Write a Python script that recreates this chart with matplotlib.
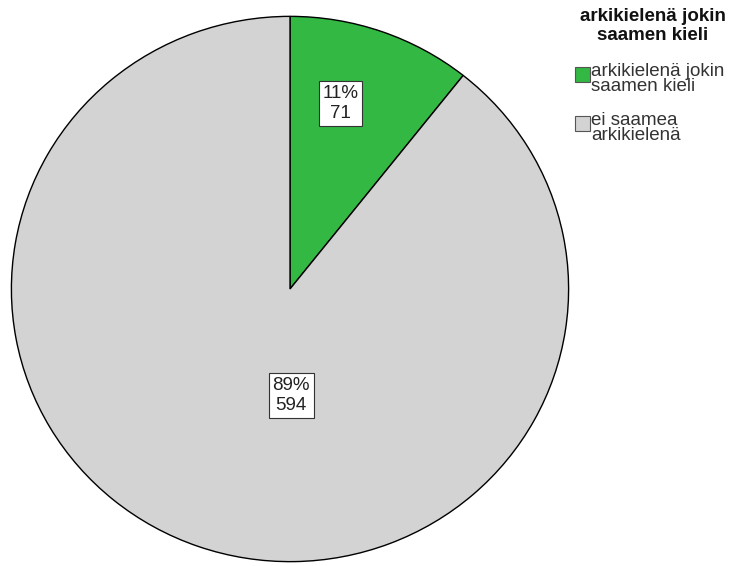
import matplotlib.pyplot as plt
from matplotlib.patches import Rectangle

# Aineisto: arkikielenä jokin saamen kieli
categories = ['arkikielenä jokin\nsaamen kieli', 'ei saamea\narkikielenä']
counts = [71, 594]
percent_labels = ['11%', '89%']
colors = ['#32B843', '#D3D3D3']
legend_title = 'arkikielenä jokin\nsaamen kieli'

plt.rcParams['font.family'] = ['Liberation Sans', 'DejaVu Sans']

W, H = 729, 566
fig = plt.figure(figsize=(W / 100, H / 100), dpi=100)
fig.patch.set_facecolor('white')

# piirakka omaan akseliinsa (pikseleinä: x 10..570, y 15..563)
left, right, top, bottom = 10, 570, 15, 563
ax = fig.add_axes([left / W, 1 - bottom / H, (right - left) / W, (bottom - top) / H])
wedges, _ = ax.pie(counts, colors=colors, startangle=90, counterclock=False,
                   radius=1, wedgeprops=dict(edgecolor='black', linewidth=1.0))
ax.set_aspect('auto')
ax.set_xlim(-1.005, 1.005)
ax.set_ylim(-1.005, 1.005)
ax.axis('off')

# arvolaatikot: prosentti ja lukumäärä
label_pos = [(0.182, 0.68), (0.004, -0.39)]
for (x, y), p, n in zip(label_pos, percent_labels, counts):
    ax.text(x, y, f'{p}\n{n}', ha='center', va='center', fontsize=13.5,
            linespacing=1.25, color='#222222',
            bbox=dict(boxstyle='square,pad=0.2', facecolor='white',
                      edgecolor='#333333', linewidth=0.8))

# selite oikeaan yläkulmaan
fig.text(653 / W, 1 - 26 / H, legend_title, ha='center', va='center',
         fontsize=13.5, fontweight='bold', linespacing=1.2, color='#111111')
legend_y = [74, 123]
for c, lab, y in zip(colors, categories, legend_y):
    fig.patches.append(Rectangle((575 / W, 1 - (y + 8) / H), 15 / W, 15 / H,
                                 transform=fig.transFigure, facecolor=c,
                                 edgecolor='#555555', linewidth=0.8))
    fig.text(591 / W, 1 - (y + 5) / H, lab, ha='left', va='center',
             fontsize=13.5, linespacing=0.85, color='#333333')

fig.savefig('out.png', dpi=100)
